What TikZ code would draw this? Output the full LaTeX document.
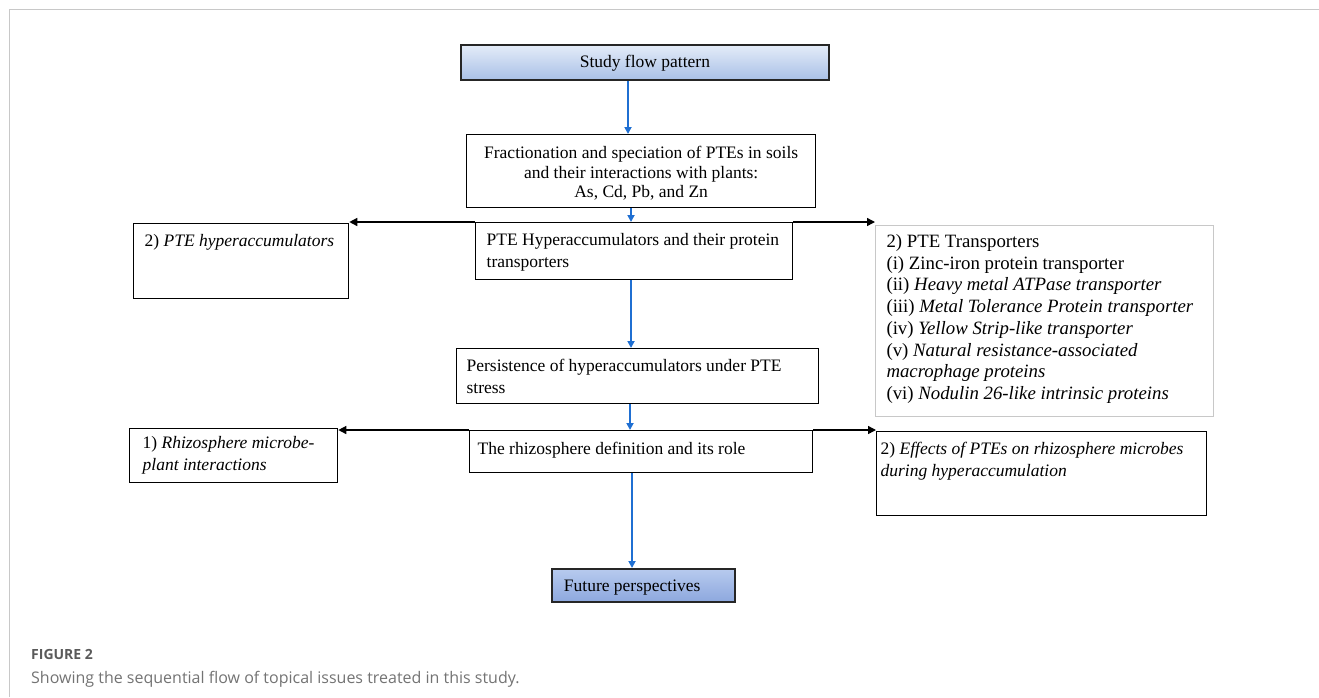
\documentclass[tikz,border=0pt]{standalone}
\usepackage{fontspec}
\setmainfont{Liberation Serif}
\newfontfamily\capfont{Open Sans}
\usetikzlibrary{arrows.meta}
\definecolor{flowblue}{HTML}{1F6FD2}
\definecolor{framegray}{HTML}{C8C8C8}
\definecolor{capgray}{HTML}{5A5A5A}
\definecolor{headtop}{HTML}{E4ECF8}
\definecolor{headbot}{HTML}{A9C0E7}
\definecolor{foottop}{HTML}{B7CAEE}
\definecolor{footbot}{HTML}{8DA8DE}
\newcommand\boxtxt[4]{\parbox[c][#2][t]{#1}{\vspace*{\dimexpr#3-\ht\strutbox\relax}\strut #4}}
\begin{document}
\begin{tikzpicture}[x=1pt,y=-1pt,
  every node/.style={font=\fontsize{17.5}{21.5}\selectfont},
  box/.style={draw=black, line width=1.3pt, inner ysep=0pt, anchor=north west},
  graybox/.style={draw=framegray, line width=1pt, inner ysep=0pt, anchor=north west},
  headbox/.style={draw=black!85, line width=1.8pt, inner ysep=0pt, anchor=north west},
  bluearrow/.style={draw=flowblue, line width=1.8pt, -{Triangle[length=7pt,width=7pt]}},
  blackarrow/.style={draw=black, line width=1.4pt, -{Triangle[length=8pt,width=8pt]}}
]
\useasboundingbox (0,0) rectangle (1319,697);
\draw[framegray, line width=1.5pt] (9.5,697) -- (9.5,9.5) -- (1319,9.5);

% boxes
\node[headbox, top color=headtop, bottom color=headbot, inner xsep=0pt] (study) at (460,44)
  {\boxtxt{368pt}{35pt}{23pt}{\centering Study flow pattern}};
\node[box, inner xsep=0pt] (frac) at (466,134)
  {\boxtxt{349pt}{73pt}{24pt}{\centering\baselineskip=19.5pt Fractionation and speciation of PTEs in soils\\ and their interactions with plants:\\ As, Cd, Pb, and Zn}};
\node[box, inner xsep=11pt] (hyper) at (475,222)
  {\boxtxt{295pt}{57pt}{23pt}{PTE Hyperaccumulators and their protein\\ transporters}};
\node[box, inner xsep=11pt] (lefthyp) at (133,223)
  {\boxtxt{193pt}{75pt}{23pt}{2) \textit{PTE hyperaccumulators}}};
\node[graybox, inner xsep=11pt, font=\fontsize{18.8}{21.7}\selectfont] (trans) at (875,225)
  {\boxtxt{316pt}{191pt}{22pt}{2) PTE Transporters\\
  (i) Zinc-iron protein transporter\\
  (ii) \textit{Heavy metal ATPase transporter}\\
  (iii) \textit{Metal Tolerance Protein transporter}\\
  (iv) \textit{Yellow Strip-like transporter}\\
  (v) \textit{Natural resistance-associated}\\
  \textit{macrophage proteins}\\
  (vi) \textit{Nodulin 26-like intrinsic proteins}}};
\node[box, inner xsep=10pt] (persist) at (456,348)
  {\boxtxt{342pt}{55pt}{23pt}{Persistence of hyperaccumulators under PTE\\ stress}};
\node[box, inner xsep=8pt] (rhizo) at (469,430)
  {\boxtxt{327pt}{42pt}{24pt}{The rhizosphere definition and its role}};
\node[box, inner xsep=13pt] (leftrhizo) at (129,428)
  {\boxtxt{182pt}{54pt}{20pt}{1) \textit{Rhizosphere microbe-}\\ \textit{plant interactions}}};
\node[box, inner xsep=4pt] (effects) at (876,431)
  {\boxtxt{322pt}{84pt}{23pt}{2) \textit{Effects of PTEs on rhizosphere microbes}\\ \textit{during hyperaccumulation}}};
\node[headbox, top color=foottop, bottom color=footbot, inner xsep=12pt] (future) at (551,568)
  {\boxtxt{159pt}{33pt}{23pt}{Future perspectives}};

% vertical blue connectors
\draw[bluearrow] (628,0 |- study.south) -- (628,0 |- frac.north);
\draw[bluearrow] (631,0 |- frac.south) -- (631,0 |- hyper.north);
\draw[bluearrow] (631,0 |- hyper.south) -- (631,0 |- persist.north);
\draw[bluearrow] (630,0 |- persist.south) -- (630,0 |- rhizo.north);
\draw[bluearrow] (632,0 |- rhizo.south) -- (632,0 |- future.north);

% side black connectors
\draw[blackarrow] (hyper.north west) -- (hyper.north west -| lefthyp.east);
\draw[blackarrow] (hyper.north east) -- (hyper.north east -| trans.west);
\draw[blackarrow] (rhizo.north west) -- (rhizo.north west -| leftrhizo.east);
\draw[blackarrow] (rhizo.north east) -- (rhizo.north east -| effects.west);

% caption
\node[anchor=base west, inner sep=0pt, font=\capfont\bfseries\fontsize{14}{17}\selectfont, text=capgray] (figlabel) at (31,659) {FIGURE 2};
\node[anchor=base west, inner sep=0pt, font=\capfont\fontsize{16}{19}\selectfont, text=capgray!85] (figcaption) at (31,683) {Showing the sequential flow of topical issues treated in this study.};
\end{tikzpicture}
\end{document}
